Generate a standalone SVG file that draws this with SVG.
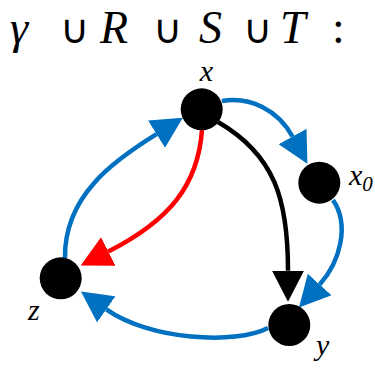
<svg xmlns="http://www.w3.org/2000/svg" width="375" height="369" viewBox="0 0 375 369">
<style>
.c{fill:none;stroke-width:4.5}
.b{stroke:#0070C0}
.r{stroke:#FF0000}
.k{stroke:#000}
.n{fill:#000}
</style>
<defs>
<marker id="ab" markerUnits="userSpaceOnUse" markerWidth="31" markerHeight="32" viewBox="0 0 31 32" refX="0" refY="16" orient="auto"><path d="M0,0 L31,16 L0,32 z" fill="#0070C0"/></marker>
<marker id="ar" markerUnits="userSpaceOnUse" markerWidth="31" markerHeight="32" viewBox="0 0 31 32" refX="0" refY="16" orient="auto"><path d="M0,0 L31,16 L0,32 z" fill="#FF0000"/></marker>
<marker id="ak" markerUnits="userSpaceOnUse" markerWidth="31" markerHeight="32" viewBox="0 0 31 32" refX="0" refY="16" orient="auto"><path d="M0,0 L31,16 L0,32 z" fill="#000"/></marker>
</defs>
<g id="title">
<text y="43" x="10" font-family="Times New Roman" font-size="46" font-style="italic">γ</text>
<text y="43" x="60" font-family="Times New Roman" font-size="40">∪</text>
<text y="43" x="100" font-family="Times New Roman" font-size="46" font-style="italic">R</text>
<text y="43" x="153" font-family="Times New Roman" font-size="40">∪</text>
<text y="43" x="199" font-family="Times New Roman" font-size="46" font-style="italic">S</text>
<text y="43" x="243" font-family="Times New Roman" font-size="40">∪</text>
<text y="43" x="280" font-family="Times New Roman" font-size="46" font-style="italic">T</text>
<text y="43" x="332" font-family="Times New Roman" font-size="46">:</text>
</g>
<g id="connectors">
<path class="c b" d="M222,101 C250,96 278,110 292.5,136.5" marker-end="url(#ab)"/>
<path class="c b" d="M333,200 C350,225 340,262 319.7,284.5" marker-end="url(#ab)"/>
<path class="c k" d="M218,122 C275,155 288,200 288,270.7" marker-end="url(#ak)"/>
<path class="c b" d="M268,328 C235,345 150,340 106.3,309.3" marker-end="url(#ab)"/>
<path class="c b" d="M65,258 C64,195 115,160 156.5,134.2" marker-end="url(#ab)"/>
<path class="c r" d="M202,130 C198,185 170,220 108.3,251.5" marker-end="url(#ar)"/>
</g>
<g id="node-x"><circle class="n" cx="201.7" cy="109.3" r="21"/><text x="206.5" y="81" font-family="Times New Roman" font-style="italic" font-size="30" text-anchor="middle">x</text></g>
<g id="node-x0"><circle class="n" cx="319.3" cy="182.7" r="21"/><text x="349" y="185" font-family="Times New Roman" font-style="italic" font-size="30">x<tspan font-size="21" dy="6">0</tspan></text></g>
<g id="node-y"><circle class="n" cx="289.3" cy="325" r="21"/><text x="316" y="355" font-family="Times New Roman" font-style="italic" font-size="30">y</text></g>
<g id="node-z"><circle class="n" cx="60.7" cy="278.3" r="21"/><text x="28" y="320" font-family="Times New Roman" font-style="italic" font-size="30">z</text></g>
</svg>
